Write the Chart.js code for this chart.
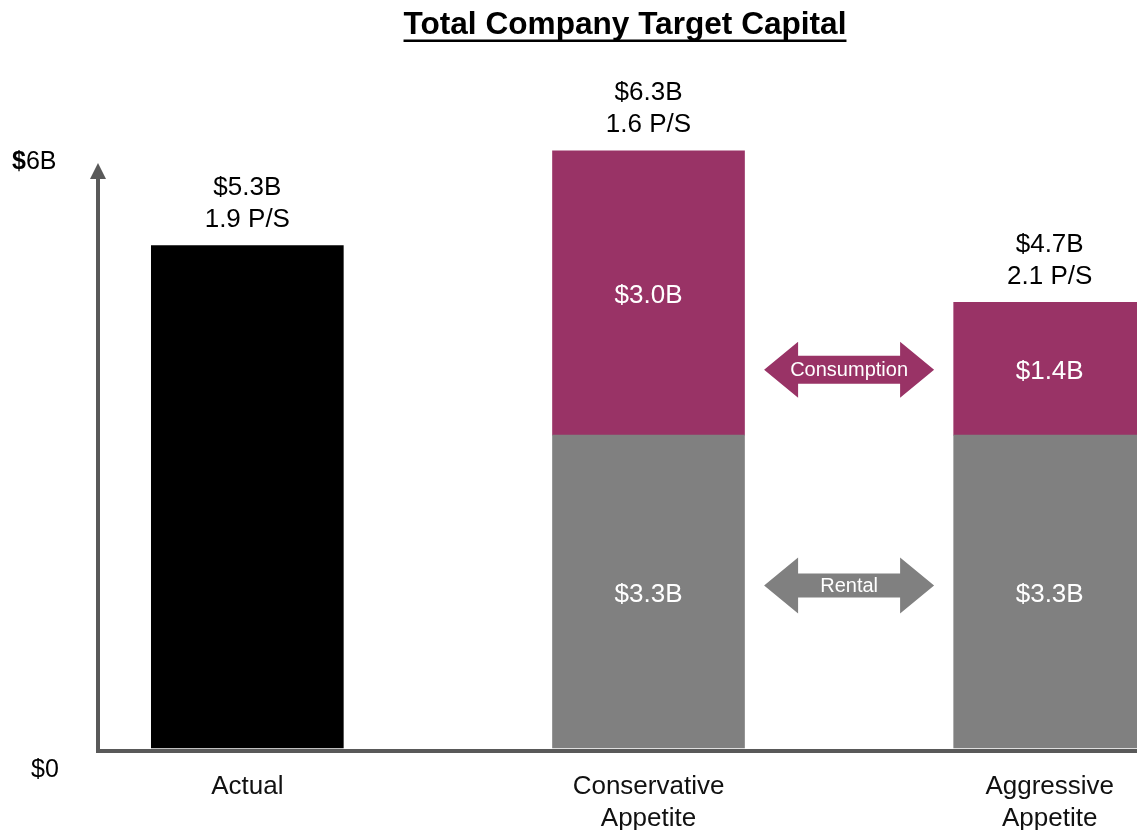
<!DOCTYPE html>
<html><head><meta charset="utf-8">
<script src="https://cdn.jsdelivr.net/npm/chart.js@4/dist/chart.umd.min.js"></script>
<style>html,body{margin:0;padding:0;background:#fff;overflow:hidden}#wrap{width:1137px;height:830px;overflow:hidden;position:relative}canvas{display:block}</style>
</head><body><div id="wrap"><canvas id="c" width="1137" height="858"></canvas></div>
<script>
// ---- data ----
const categories = [['Actual'], ['Conservative', 'Appetite'], ['Aggressive', 'Appetite']];
const actualValues = [5.3, null, null];
const rentalValues = [null, 3.3, 3.3];
const consumptionValues = [null, 3.0, 1.4];
const totalLabels = ['$5.3B', '$6.3B', '$4.7B'];
const psLabels = ['1.9 P/S', '1.6 P/S', '2.1 P/S'];
const yAxisLabels = ['$0', '$6B'];
const arrowLabels = ['Consumption', 'Rental'];
const titleText = 'Total Company Target Capital';

const FONT = "'Liberation Sans', Arial, sans-serif";
const PURPLE = '#993366', GRAY = '#808080', BLACK = '#000000', AXIS = '#595959';

const toPoints = arr => arr.map((v, i) => (v == null ? null : { x: i, y: v })).filter(p => p);

const deco = {
  id: 'deco',
  afterDatasetsDraw(chart) {
    const { ctx, chartArea: a, scales: { x, y } } = chart;
    ctx.save();
    // title
    ctx.fillStyle = '#000';
    ctx.font = 'bold 31.6px ' + FONT;
    ctx.textAlign = 'center';
    ctx.textBaseline = 'alphabetic';
    const tx = 625, tb = 34;
    ctx.fillText(titleText, tx, tb);
    const tw = ctx.measureText(titleText).width;
    ctx.fillRect(tx - tw / 2, tb + 5.5, tw, 2.5);

    // axes
    ctx.strokeStyle = AXIS; ctx.fillStyle = AXIS; ctx.lineWidth = 4;
    const ax = a.left + 1, ay = a.bottom + 3;
    ctx.beginPath(); ctx.moveTo(ax, ay + 2); ctx.lineTo(ax, 178); ctx.stroke();
    ctx.beginPath(); ctx.moveTo(ax - 8, 179); ctx.lineTo(ax + 8, 179); ctx.lineTo(ax, 163); ctx.closePath(); ctx.fill();
    ctx.beginPath(); ctx.moveTo(ax - 2, ay); ctx.lineTo(chart.width, ay); ctx.stroke();

    // y labels
    ctx.fillStyle = '#000'; ctx.textAlign = 'left'; ctx.textBaseline = 'middle';
    ctx.font = '25px ' + FONT;
    ctx.fillText(yAxisLabels[0], 31, 770);
    const six = yAxisLabels[1];
    ctx.font = 'bold 25px ' + FONT;
    ctx.fillText(six[0], 12, 162);
    const dw = ctx.measureText(six[0]).width;
    ctx.font = '25px ' + FONT;
    ctx.fillText(six.slice(1), 12 + dw, 162);

    // segment labels
    ctx.textAlign = 'center'; ctx.fillStyle = '#fff'; ctx.font = '26px ' + FONT;
    [1, 2].forEach(di => {
      const meta = chart.getDatasetMeta(di);
      const ds = chart.data.datasets[di];
      meta.data.forEach((el, j) => {
        const v = ds.data[j].y;
        ctx.fillText('$' + v.toFixed(1) + 'B', el.x, (el.y + el.base) / 2 + 3);
      });
    });

    // total labels
    ctx.fillStyle = '#000';
    categories.forEach((c, i) => {
      const sum = (actualValues[i] || 0) + (rentalValues[i] || 0) + (consumptionValues[i] || 0);
      const top = y.getPixelForValue(sum);
      const cx = x.getPixelForValue(i);
      ctx.fillText(totalLabels[i], cx, top - 58);
      ctx.fillText(psLabels[i], cx, top - 26);
    });

    // arrows between Conservative and Aggressive
    const acx = (x.getPixelForValue(1) + x.getPixelForValue(2)) / 2;
    const consMid = y.getPixelForValue(rentalValues[2] + consumptionValues[2] / 2) + 1;
    const rentMid = y.getPixelForValue(rentalValues[2] / 2) - 6;
    function arrow(cx, cy, halfLen, headLen, headH, shaftH, color) {
      ctx.fillStyle = color;
      ctx.beginPath();
      ctx.moveTo(cx - halfLen, cy);
      ctx.lineTo(cx - halfLen + headLen, cy - headH / 2);
      ctx.lineTo(cx - halfLen + headLen, cy - shaftH / 2);
      ctx.lineTo(cx + halfLen - headLen, cy - shaftH / 2);
      ctx.lineTo(cx + halfLen - headLen, cy - headH / 2);
      ctx.lineTo(cx + halfLen, cy);
      ctx.lineTo(cx + halfLen - headLen, cy + headH / 2);
      ctx.lineTo(cx + halfLen - headLen, cy + shaftH / 2);
      ctx.lineTo(cx - halfLen + headLen, cy + shaftH / 2);
      ctx.lineTo(cx - halfLen + headLen, cy + headH / 2);
      ctx.closePath();
      ctx.fill();
    }
    arrow(acx, consMid, 85, 34, 56, 28, PURPLE);
    arrow(acx, rentMid, 85, 34, 56, 24, GRAY);
    ctx.fillStyle = '#fff'; ctx.font = '20px ' + FONT;
    ctx.fillText(arrowLabels[0], acx, consMid + 1);
    ctx.fillText(arrowLabels[1], acx, rentMid + 1);
    ctx.restore();
  }
};

new Chart(document.getElementById('c'), {
  type: 'bar',
  data: {
    datasets: [
      { label: 'Actual', data: toPoints(actualValues), backgroundColor: BLACK, barThickness: 192, clip: false },
      { label: 'Rental', data: toPoints(rentalValues), backgroundColor: GRAY, barThickness: 192, clip: false },
      { label: 'Consumption', data: toPoints(consumptionValues), backgroundColor: PURPLE, barThickness: 192, clip: false }
    ]
  },
  options: {
    responsive: false,
    animation: false,
    devicePixelRatio: 1,
    layout: { padding: { top: 84.4, left: 97, right: 0, bottom: 0 } },
    plugins: { legend: { display: false }, tooltip: { enabled: false }, title: { display: false } },
    scales: {
      x: {
        type: 'linear', stacked: true, offset: false, min: -0.3747, max: 2.206,
        grid: { display: false, drawTicks: false, offset: false }, border: { display: false },
        afterBuildTicks: axis => { axis.ticks = categories.map((c, i) => ({ value: i })); },
        ticks: {
          padding: 23, maxRotation: 0, minRotation: 0, autoSkip: false, color: '#111',
          font: { family: FONT, size: 26, lineHeight: 32 / 26 },
          callback: v => categories[v]
        }
      },
      y: { display: false, stacked: true, min: 0, max: 7 }
    }
  },
  plugins: [deco]
});
</script>
</body></html>
